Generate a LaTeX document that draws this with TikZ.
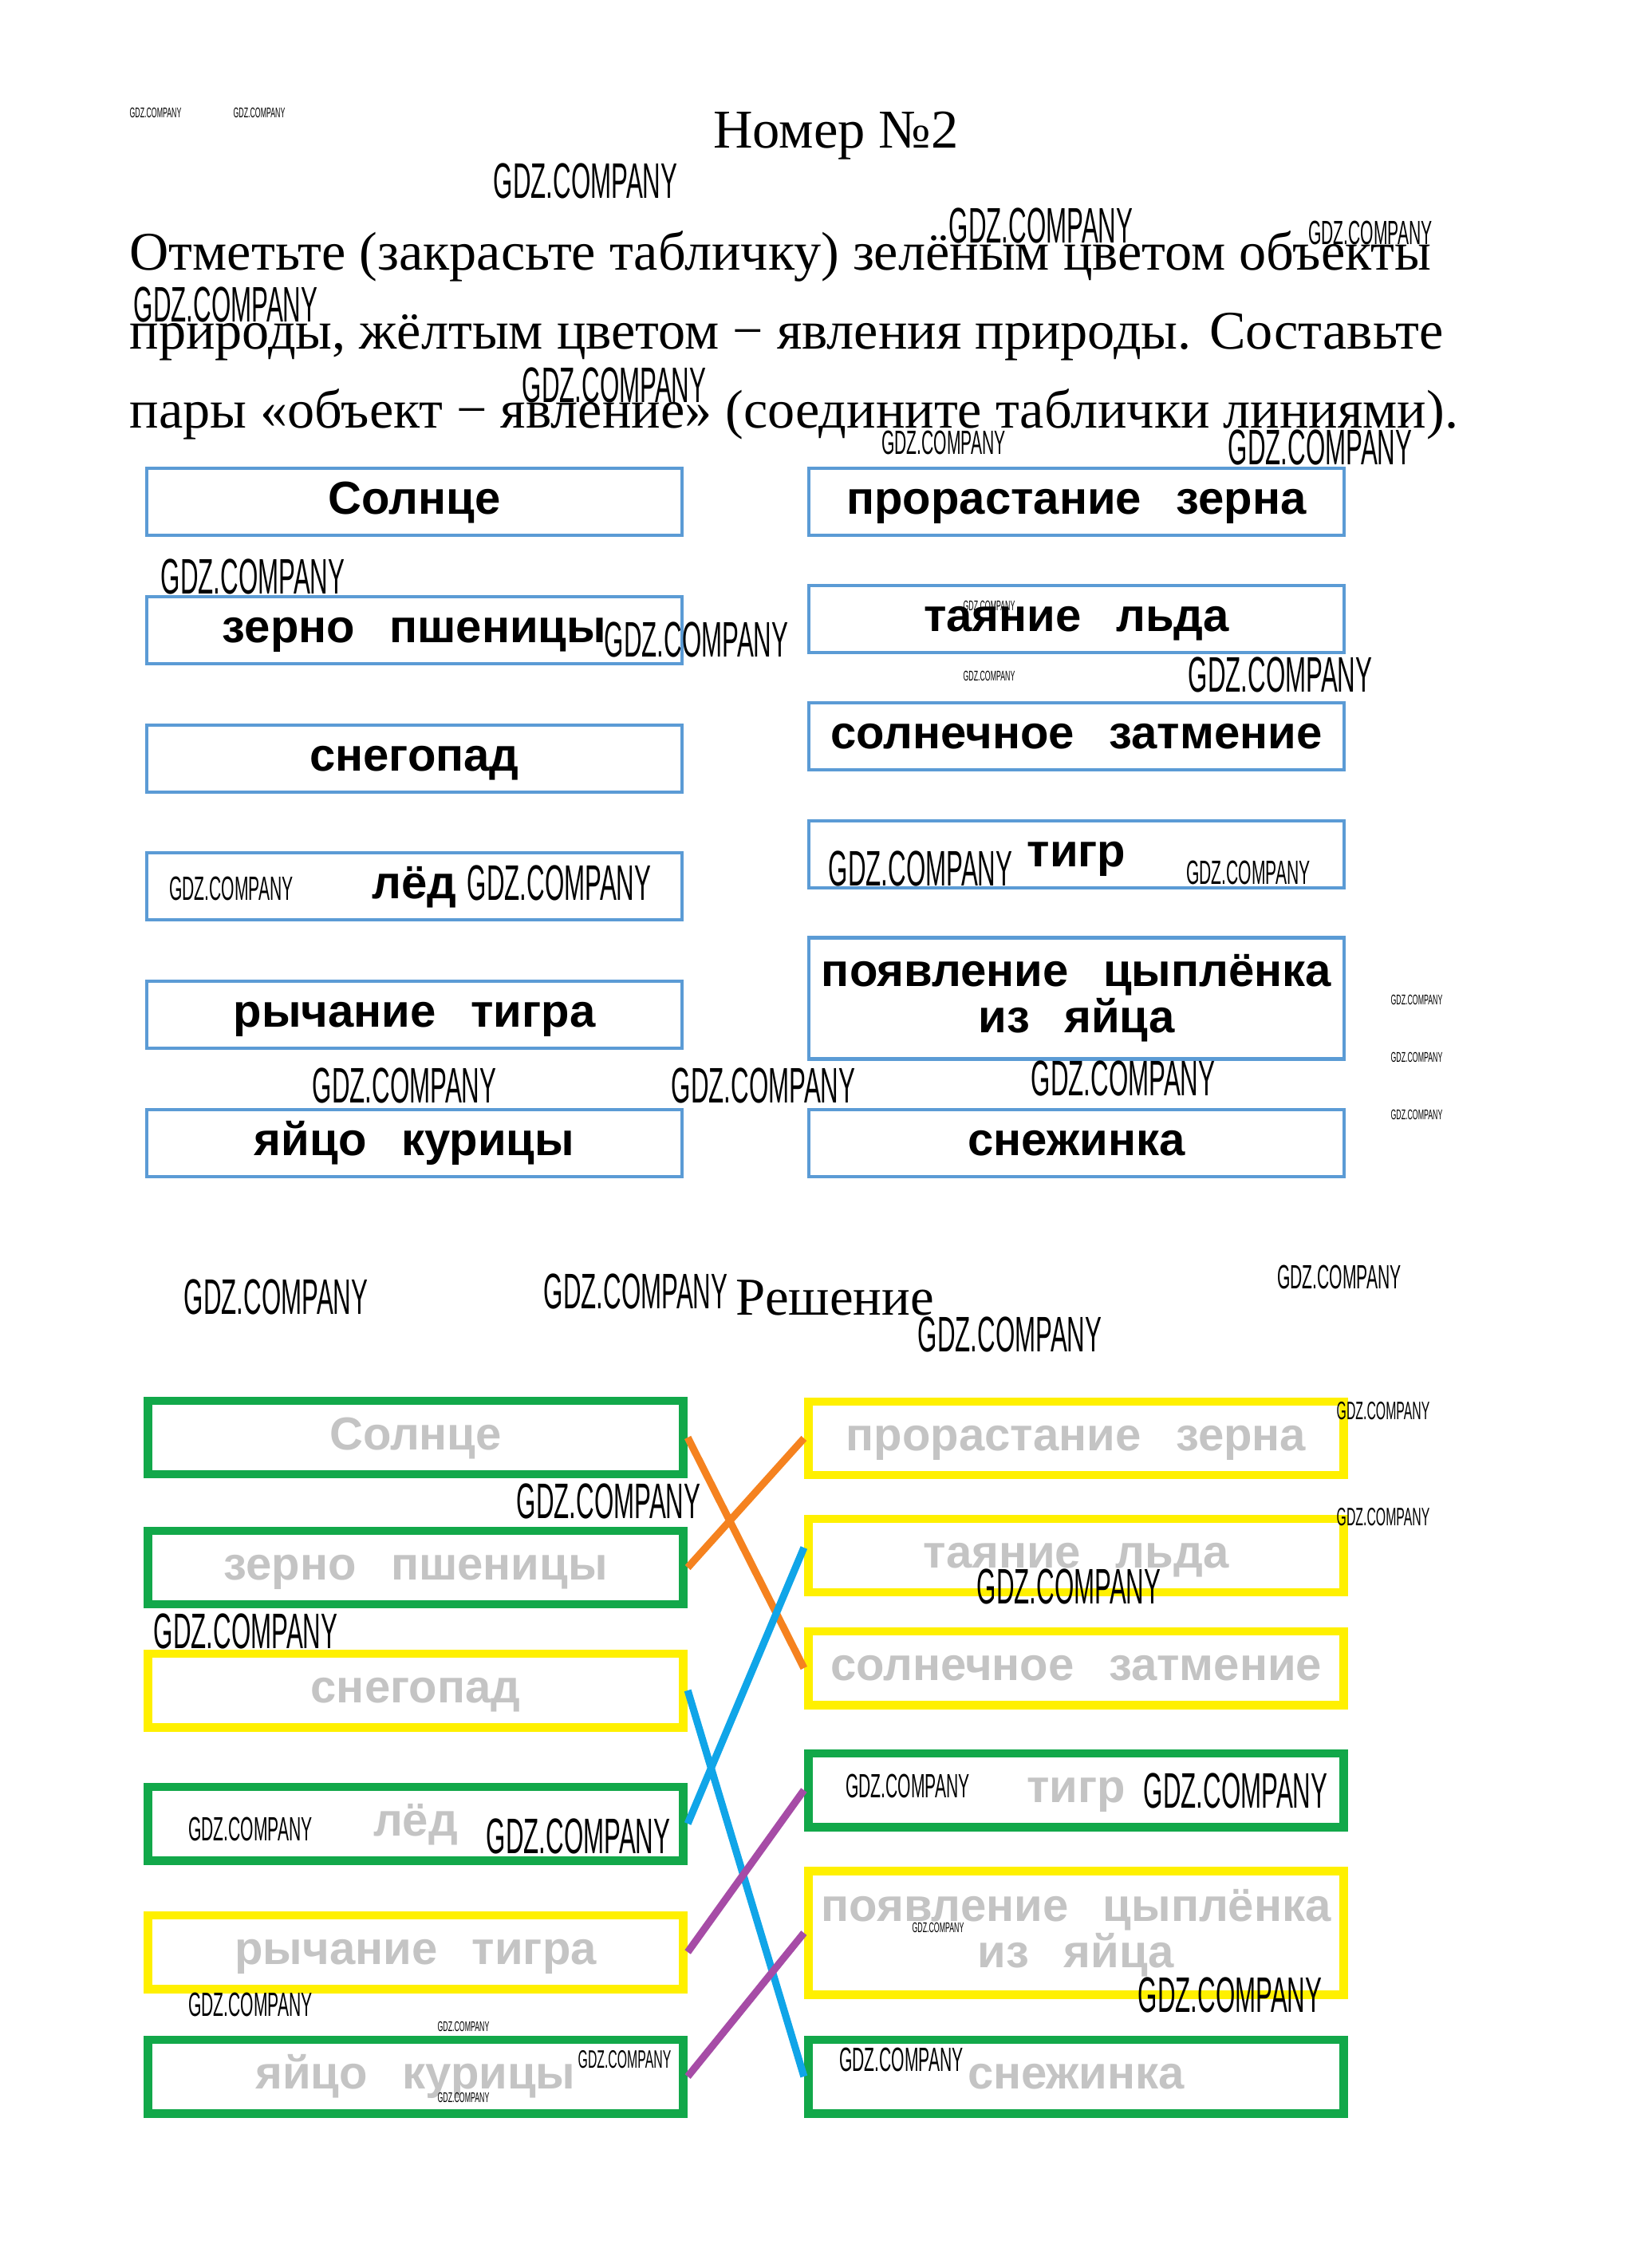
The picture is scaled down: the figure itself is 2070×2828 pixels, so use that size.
\documentclass[tikz,border=0pt]{standalone}
\usepackage{fontspec}
\setmainfont{Liberation Serif}
\newfontfamily\boxfont{Liberation Sans}
\newfontfamily\wmfont[FakeStretch=0.5]{Liberation Sans}
\usepackage{xcolor}
\usepackage{tikz}
\definecolor{frameblue}{HTML}{5B9BD5}
\definecolor{objgreen}{HTML}{12A84A}
\definecolor{phenyellow}{HTML}{FFF000}
\definecolor{textgray}{HTML}{C4C4C4}
\definecolor{linkorange}{HTML}{F5821F}
\definecolor{linkblue}{HTML}{10A5E8}
\definecolor{linkpurple}{HTML}{A64CA6}
\newcommand{\gap}{\hspace{0.75em}}

\begin{document}
\begin{tikzpicture}[
    x=0.01cm, y=-0.01cm,
    card/.style={draw=frameblue, line width=1.2pt,
        minimum width=6.71cm, minimum height=0.84cm, inner sep=0pt,
        text height=8.8pt, text depth=0pt,
        font=\boxfont\bfseries\fontsize{16.5}{17}\selectfont},
    tallcard/.style={card, minimum height=1.52cm, align=center,
        text height={}, text depth={}},
    objcard/.style={card, draw=objgreen, line width=3.1pt,
        minimum height=0.92cm, text=textgray},
    phencard/.style={card, draw=phenyellow, line width=3.1pt,
        minimum height=0.92cm, text=textgray},
    link/.style={line width=2.6pt},
    body/.style={anchor=base west, inner sep=0pt,
        font=\fontsize{19.4}{23}\selectfont},
    wmL/.style={inner sep=0pt, font=\wmfont\fontsize{17.8}{18}\selectfont},
    wmM/.style={inner sep=0pt, font=\wmfont\fontsize{12}{12}\selectfont},
    wmN/.style={inner sep=0pt, font=\wmfont\fontsize{9}{9}\selectfont},
    wmS/.style={inner sep=0pt, font=\wmfont\fontsize{5}{5}\selectfont}
]
\useasboundingbox (0,0) rectangle (2070,2828);

% Heading and task
\node[anchor=base, inner sep=0pt, font=\fontsize{19.5}{20}\selectfont]
    (title) at (1048,186) {Номер №2};
\node[body] (line1) at (162,339)
    {Отметьте (закрасьте табличку) зелёным цветом объекты};
\node[body] (line2) at (162,438)
    {природы, жёлтым цветом − явления природы. Составьте};
\node[body] (line3) at (162,537)
    {пары «объект − явление» (соедините таблички линиями).};

% Task cards, left column
\node[card] (sun)   at (519.5,629)  {Солнце};
\node[card] (wheat) at (519.5,790)  {зерно\gap пшеницы};
\node[card] (snow)  at (519.5,951)  {снегопад};
\node[card] (ice)   at (519.5,1111) {лёд};
\node[card] (roar)  at (519.5,1272) {рычание\gap тигра};
\node[card] (egg)   at (519.5,1433) {яйцо\gap курицы};

% Task cards, right column
\node[card] (sprout)  at (1349.5,629)  {прорастание\gap зерна};
\node[card] (melt)    at (1349.5,776)  {таяние\gap льда};
\node[card] (eclipse) at (1349.5,923)  {солнечное\gap затмение};
\node[card] (tiger)   at (1349.5,1071) {тигр};
\node[tallcard] (chick) at (1349.5,1251.5)
    {появление\gap цыплёнка\\[-0.5pt]из\gap яйца};
\node[card] (flake)   at (1349.5,1433) {снежинка};

% Solution
\node[anchor=base, inner sep=0pt, font=\fontsize{19}{20}\selectfont]
    (answer) at (1047,1648) {Решение};

\node[objcard]  (sunA)   at (521,1802) {Солнце};
\node[objcard]  (wheatA) at (521,1965) {зерно\gap пшеницы};
\node[phencard] (snowA)  at (521,2119) {снегопад};
\node[objcard]  (iceA)   at (521,2286) {лёд};
\node[phencard] (roarA)  at (521,2447) {рычание\gap тигра};
\node[objcard]  (eggA)   at (521,2603) {яйцо\gap курицы};

\node[phencard] (sproutA)  at (1349,1803) {прорастание\gap зерна};
\node[phencard] (meltA)    at (1349,1950) {таяние\gap льда};
\node[phencard] (eclipseA) at (1349,2091) {солнечное\gap затмение};
\node[objcard]  (tigerA)   at (1349,2244) {тигр};
\node[phencard, minimum height=1.55cm, align=center,
      text height={}, text depth={}] (chickA) at (1349,2423)
    {появление\gap цыплёнка\\[-0.5pt]из\gap яйца};
\node[objcard]  (flakeA)   at (1349,2603) {снежинка};

% Pairs
\draw[link, linkorange] (sunA.east) -- (eclipseA.west);
\draw[link, linkorange] (wheatA.east) -- (sproutA.west);
\draw[link, linkblue] (iceA.east) -- ([yshift=0.1cm]meltA.west);
\draw[link, linkblue] (snowA.east) -- (flakeA.west);
\draw[link, linkpurple] (roarA.east) -- (tigerA.west);
\draw[link, linkpurple] (eggA.east) -- (chickA.west);

% Watermarks
\foreach \x/\y/\s [count=\i] in {
    734/227/wmL, 1305/283/wmL, 283/382/wmL, 770/483/wmL, 1655/561/wmL,
    317/723/wmL, 873/802/wmL, 1605/846/wmL, 701/1107/wmL, 1154/1089/wmL,
    507/1361/wmL, 957/1361/wmL, 1408/1352/wmL, 346/1626/wmL, 797/1619/wmL,
    1266/1673/wmL, 763/1882/wmL, 1340/1989/wmL, 308/2045/wmL, 725/2302/wmL,
    1549/2245/wmL, 1542/2501/wmL,
    1718/292/wmM, 1183/555/wmM, 290/1114/wmM, 1565/1094/wmM, 1679/1601/wmM,
    314/2293/wmM, 1138/2239/wmM, 314/2513/wmM, 1130/2582/wmM,
    1734/1769/wmN, 1734/1902/wmN, 783/2582/wmN,
    195/141/wmS, 325/141/wmS, 1240/759/wmS, 1240/847/wmS, 1776/1253/wmS,
    1776/1325/wmS, 1776/1397/wmS, 581/2540/wmS, 581/2629/wmS, 1176/2416/wmS}
    \node[\s] (wm\i) at (\x,\y) {GDZ.COMPANY};
\end{tikzpicture}
\end{document}
